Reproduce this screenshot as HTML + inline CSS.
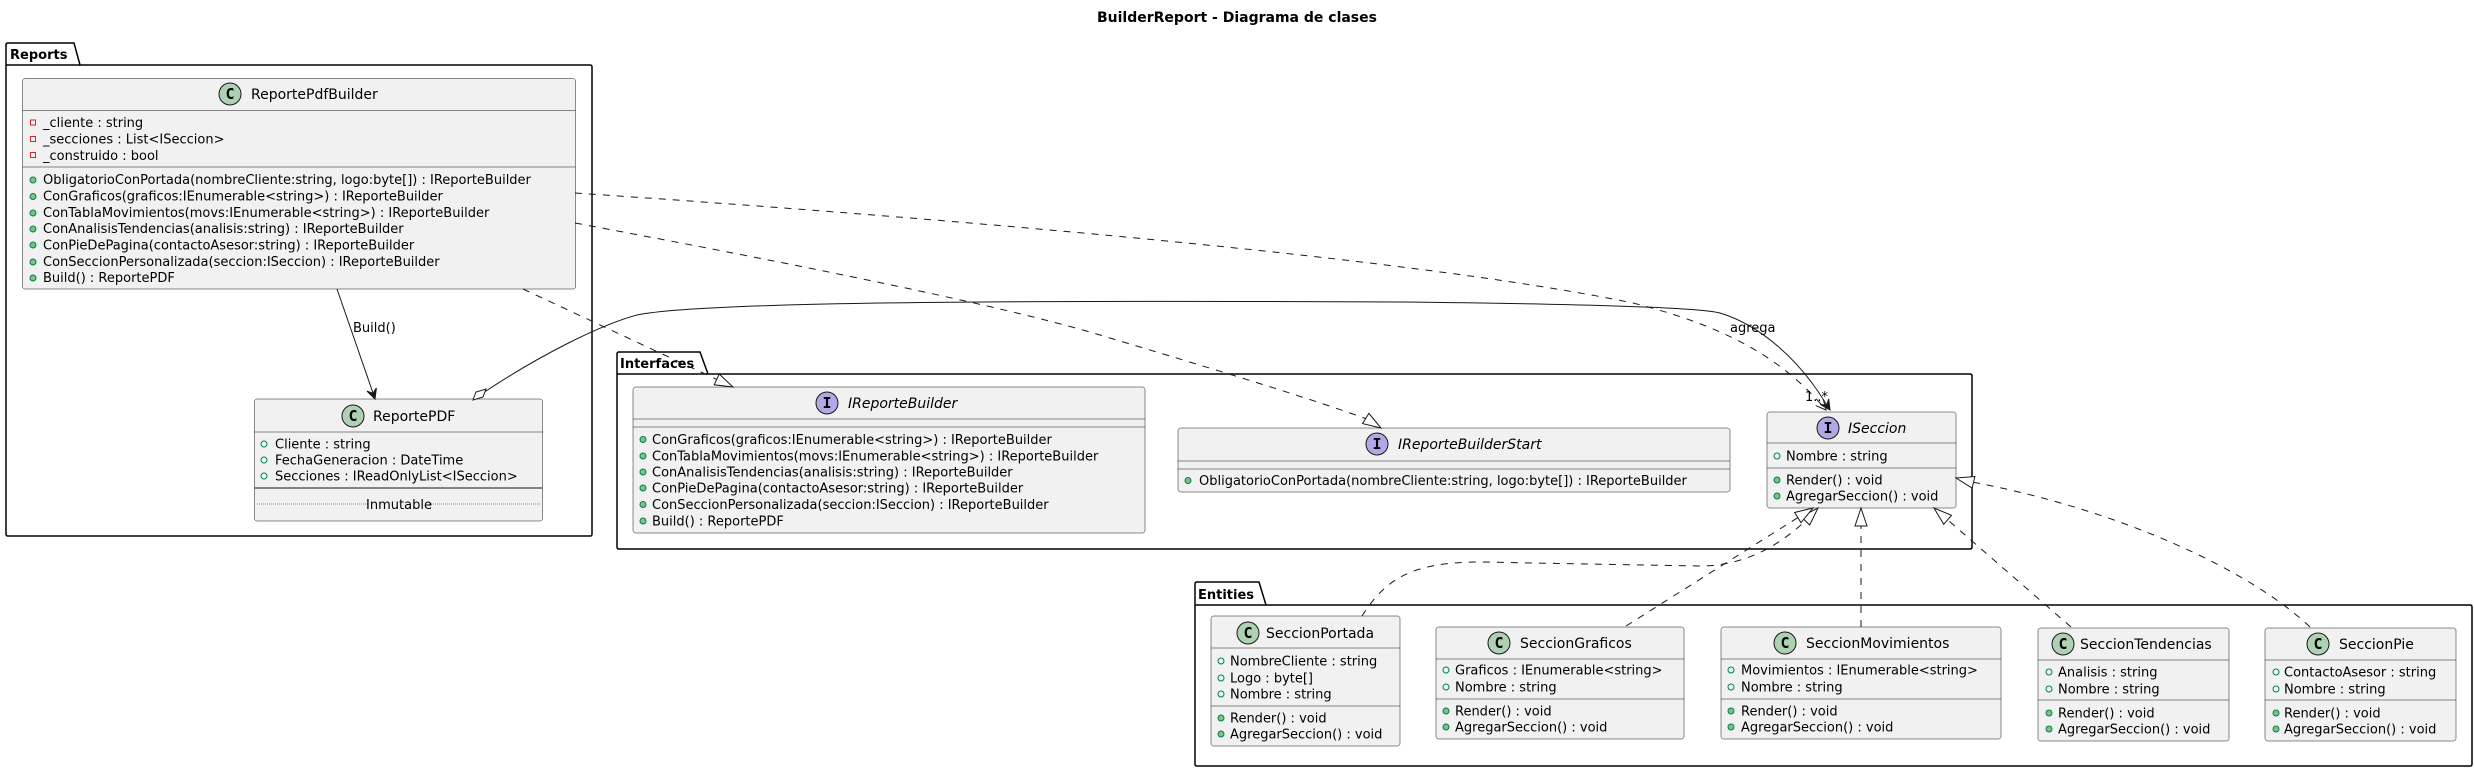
<!DOCTYPE html>
<html><head><meta charset="utf-8"><style>
html,body{margin:0;padding:0;background:#fff;}
svg{display:block;}
text{font-family:"DejaVu Sans","Liberation Sans",sans-serif;fill:#000;}
.m{font-size:13px;}
.n{font-size:14px;}
.i{font-style:italic;}
.b{fill:#F1F1F1;stroke:#181818;stroke-width:0.5;}
.sep{stroke:#181818;stroke-width:0.5;}
.pk{fill:none;stroke:#000;stroke-width:1.5;}
.d{fill:none;stroke:#181818;stroke-width:1;stroke-dasharray:7,7;}
.s{fill:none;stroke:#181818;stroke-width:1;}
.tri{fill:#fff;stroke:#181818;stroke-width:1;}
.pr{fill:none;stroke:#C82930;stroke-width:1;}
.pm{fill:#84BE84;stroke:#038048;stroke-width:1;}
.pf{fill:none;stroke:#038048;stroke-width:1;}
.cc{fill:#ADD1B2;stroke:#181818;stroke-width:1;}
.ci{fill:#B4A7E5;stroke:#181818;stroke-width:1;}
.cl{font-size:15px;font-weight:bold;font-family:"DejaVu Sans Mono","Liberation Mono",monospace;}
.pkt{font-size:13px;font-weight:bold;}
</style></head><body>
<svg width="2474" height="768" viewBox="0 0 2474 768" xmlns="http://www.w3.org/2000/svg">
<text x="1237" y="22" text-anchor="middle" style="font-size:14px;font-weight:bold">BuilderReport - Diagrama de clases</text>

<!-- Packages -->
<path class="pk" d="M6,65 L6,45 Q6,43 8,43 L74,43 L80,65 L590,65 Q592,65 592,67 L592,534 Q592,536 590,536 L8,536 Q6,536 6,534 Z"/>
<line class="pk" x1="6" y1="65" x2="80" y2="65"/>
<text class="pkt" x="10" y="59">Reports</text>

<path class="pk" d="M617,374 L617,354 Q617,352 619,352 L700,352 L708,374 L1970,374 Q1972,374 1972,376 L1972,547 Q1972,549 1970,549 L619,549 Q617,549 617,547 Z"/>
<line class="pk" x1="617" y1="374" x2="708" y2="374"/>
<text class="pkt" x="620" y="368">Interfaces</text>

<path class="pk" d="M1195,605 L1195,584 Q1195,582 1197,582 L1259,582 L1266,605 L2470,605 Q2472,605 2472,607 L2472,764 Q2472,766 2470,766 L1197,766 Q1195,766 1195,764 Z"/>
<line class="pk" x1="1195" y1="605" x2="1266" y2="605"/>
<text class="pkt" x="1198" y="599">Entities</text>

<!-- ReportePdfBuilder -->
<rect class="b" x="22.5" y="78.5" width="553" height="210.5" rx="2.5"/>
<line class="sep" x1="22.5" y1="110.5" x2="575.5" y2="110.5"/>
<line class="sep" x1="22.5" y1="167" x2="575.5" y2="167"/>
<circle class="cc" cx="230" cy="94" r="11"/><text class="cl" x="230" y="99" text-anchor="middle">C</text>
<text class="n" x="251" y="99">ReportePdfBuilder</text>
<rect class="pr" x="30.5" y="120" width="5" height="5"/><text class="m" x="43" y="127">_cliente : string</text>
<rect class="pr" x="30.5" y="136.5" width="5" height="5"/><text class="m" x="43" y="143.5">_secciones : List&lt;ISeccion&gt;</text>
<rect class="pr" x="30.5" y="152.5" width="5" height="5"/><text class="m" x="43" y="160">_construido : bool</text>
<circle class="pm" cx="33" cy="180" r="3"/><text class="m" x="43" y="184">ObligatorioConPortada(nombreCliente:string, logo:byte[]) : IReporteBuilder</text>
<circle class="pm" cx="33" cy="196.5" r="3"/><text class="m" x="43" y="200.5">ConGraficos(graficos:IEnumerable&lt;string&gt;) : IReporteBuilder</text>
<circle class="pm" cx="33" cy="213" r="3"/><text class="m" x="43" y="217">ConTablaMovimientos(movs:IEnumerable&lt;string&gt;) : IReporteBuilder</text>
<circle class="pm" cx="33" cy="229" r="3"/><text class="m" x="43" y="233">ConAnalisisTendencias(analisis:string) : IReporteBuilder</text>
<circle class="pm" cx="33" cy="245" r="3"/><text class="m" x="43" y="249.5">ConPieDePagina(contactoAsesor:string) : IReporteBuilder</text>
<circle class="pm" cx="33" cy="262" r="3"/><text class="m" x="43" y="266">ConSeccionPersonalizada(seccion:ISeccion) : IReporteBuilder</text>
<circle class="pm" cx="33" cy="278" r="3"/><text class="m" x="43" y="282">Build() : ReportePDF</text>

<!-- ReportePDF -->
<rect class="b" x="254.5" y="399" width="288" height="122" rx="2.5"/>
<line class="sep" x1="254.5" y1="432" x2="542.5" y2="432"/>
<line x1="254.5" y1="488" x2="542.5" y2="488" stroke="#181818" stroke-width="1"/>
<line x1="257" y1="504" x2="540" y2="504" stroke="#181818" stroke-width="0.5" stroke-dasharray="1,1"/>
<rect x="369" y="496" width="60" height="16" fill="#F1F1F1"/>
<text class="m" x="399" y="509" text-anchor="middle">Inmutable</text>
<circle class="cc" cx="353" cy="416" r="11"/><text class="cl" x="353" y="421" text-anchor="middle">C</text>
<text class="n" x="373" y="421">ReportePDF</text>
<circle class="pf" cx="264" cy="444" r="3"/><text class="m" x="275" y="448.5">Cliente : string</text>
<circle class="pf" cx="264" cy="460" r="3"/><text class="m" x="275" y="464.5">FechaGeneracion : DateTime</text>
<circle class="pf" cx="264" cy="476" r="3"/><text class="m" x="275" y="480.5">Secciones : IReadOnlyList&lt;ISeccion&gt;</text>

<!-- IReporteBuilder -->
<rect class="b" x="633" y="387" width="512" height="146" rx="2.5"/>
<line class="sep" x1="633" y1="419" x2="1145" y2="419"/>
<line class="sep" x1="633" y1="427" x2="1145" y2="427"/>
<circle class="ci" cx="827" cy="403" r="11"/><text class="cl" x="827" y="408" text-anchor="middle">I</text>
<text class="n i" x="848" y="408">IReporteBuilder</text>
<circle class="pm" cx="643" cy="439.5" r="3"/><text class="m" x="652" y="444">ConGraficos(graficos:IEnumerable&lt;string&gt;) : IReporteBuilder</text>
<circle class="pm" cx="643" cy="456" r="3"/><text class="m" x="652" y="460.5">ConTablaMovimientos(movs:IEnumerable&lt;string&gt;) : IReporteBuilder</text>
<circle class="pm" cx="643" cy="472" r="3"/><text class="m" x="652" y="476.5">ConAnalisisTendencias(analisis:string) : IReporteBuilder</text>
<circle class="pm" cx="643" cy="488" r="3"/><text class="m" x="652" y="492.5">ConPieDePagina(contactoAsesor:string) : IReporteBuilder</text>
<circle class="pm" cx="643" cy="504.5" r="3"/><text class="m" x="652" y="509">ConSeccionPersonalizada(seccion:ISeccion) : IReporteBuilder</text>
<circle class="pm" cx="643" cy="521" r="3"/><text class="m" x="652" y="525.5">Build() : ReportePDF</text>

<!-- IReporteBuilderStart -->
<rect class="b" x="1178" y="428" width="552" height="64" rx="2.5"/>
<line class="sep" x1="1178" y1="461" x2="1730" y2="461"/>
<line class="sep" x1="1178" y1="469" x2="1730" y2="469"/>
<circle class="ci" cx="1377" cy="444" r="11"/><text class="cl" x="1377" y="449" text-anchor="middle">I</text>
<text class="n i" x="1398" y="449">IReporteBuilderStart</text>
<circle class="pm" cx="1188" cy="480.5" r="3"/><text class="m" x="1199" y="485">ObligatorioConPortada(nombreCliente:string, logo:byte[]) : IReporteBuilder</text>

<!-- ISeccion -->
<rect class="b" x="1767" y="412" width="189" height="96" rx="2.5"/>
<line class="sep" x1="1767" y1="443" x2="1956" y2="443"/>
<line class="sep" x1="1767" y1="468" x2="1956" y2="468"/>
<circle class="ci" cx="1828" cy="428" r="11"/><text class="cl" x="1828" y="433" text-anchor="middle">I</text>
<text class="n i" x="1848" y="433">ISeccion</text>
<circle class="pf" cx="1777" cy="456" r="3"/><text class="m" x="1786" y="460.5">Nombre : string</text>
<circle class="pm" cx="1777" cy="480" r="3"/><text class="m" x="1786" y="484.5">Render() : void</text>
<circle class="pm" cx="1777" cy="496" r="3"/><text class="m" x="1786" y="500.5">AgregarSeccion() : void</text>

<!-- SeccionPortada -->
<rect class="b" x="1211" y="616" width="189" height="130" rx="2.5"/>
<line class="sep" x1="1211" y1="648" x2="1400" y2="648"/>
<line class="sep" x1="1211" y1="706" x2="1400" y2="706"/>
<circle class="cc" cx="1248" cy="633" r="11"/><text class="cl" x="1248" y="638" text-anchor="middle">C</text>
<text class="n" x="1266" y="638">SeccionPortada</text>
<circle class="pf" cx="1221" cy="661" r="3"/><text class="m" x="1230" y="665.5">NombreCliente : string</text>
<circle class="pf" cx="1221" cy="678" r="3"/><text class="m" x="1230" y="682.5">Logo : byte[]</text>
<circle class="pf" cx="1221" cy="694" r="3"/><text class="m" x="1230" y="698.5">Nombre : string</text>
<circle class="pm" cx="1221" cy="718" r="3"/><text class="m" x="1230" y="722.5">Render() : void</text>
<circle class="pm" cx="1221" cy="734" r="3"/><text class="m" x="1230" y="738.5">AgregarSeccion() : void</text>

<!-- SeccionGraficos -->
<rect class="b" x="1436" y="627" width="248" height="112" rx="2.5"/>
<line class="sep" x1="1436" y1="659" x2="1684" y2="659"/>
<line class="sep" x1="1436" y1="699" x2="1684" y2="699"/>
<circle class="cc" cx="1499" cy="643" r="11"/><text class="cl" x="1499" y="648" text-anchor="middle">C</text>
<text class="n" x="1520" y="648">SeccionGraficos</text>
<circle class="pf" cx="1446" cy="670" r="3"/><text class="m" x="1455" y="674.5">Graficos : IEnumerable&lt;string&gt;</text>
<circle class="pf" cx="1446" cy="687" r="3"/><text class="m" x="1455" y="691.5">Nombre : string</text>
<circle class="pm" cx="1446" cy="711" r="3"/><text class="m" x="1455" y="715.5">Render() : void</text>
<circle class="pm" cx="1446" cy="727" r="3"/><text class="m" x="1455" y="731.5">AgregarSeccion() : void</text>

<!-- SeccionMovimientos -->
<rect class="b" x="1721" y="627" width="280" height="112" rx="2.5"/>
<line class="sep" x1="1721" y1="659" x2="2001" y2="659"/>
<line class="sep" x1="1721" y1="699" x2="2001" y2="699"/>
<circle class="cc" cx="1785" cy="643" r="11"/><text class="cl" x="1785" y="648" text-anchor="middle">C</text>
<text class="n" x="1806" y="648">SeccionMovimientos</text>
<circle class="pf" cx="1731" cy="670" r="3"/><text class="m" x="1741" y="674.5">Movimientos : IEnumerable&lt;string&gt;</text>
<circle class="pf" cx="1731" cy="687" r="3"/><text class="m" x="1741" y="691.5">Nombre : string</text>
<circle class="pm" cx="1731" cy="711" r="3"/><text class="m" x="1741" y="715.5">Render() : void</text>
<circle class="pm" cx="1731" cy="727" r="3"/><text class="m" x="1741" y="731.5">AgregarSeccion() : void</text>

<!-- SeccionTendencias -->
<rect class="b" x="2038" y="628" width="191" height="113" rx="2.5"/>
<line class="sep" x1="2038" y1="660" x2="2229" y2="660"/>
<line class="sep" x1="2038" y1="700" x2="2229" y2="700"/>
<circle class="cc" cx="2063" cy="644" r="11"/><text class="cl" x="2063" y="649" text-anchor="middle">C</text>
<text class="n" x="2080" y="649">SeccionTendencias</text>
<circle class="pf" cx="2049" cy="672" r="3"/><text class="m" x="2058" y="676.5">Analisis : string</text>
<circle class="pf" cx="2049" cy="689" r="3"/><text class="m" x="2058" y="693.5">Nombre : string</text>
<circle class="pm" cx="2049" cy="713" r="3"/><text class="m" x="2058" y="717.5">Render() : void</text>
<circle class="pm" cx="2049" cy="729" r="3"/><text class="m" x="2058" y="733.5">AgregarSeccion() : void</text>

<!-- SeccionPie -->
<rect class="b" x="2265" y="628" width="191" height="113" rx="2.5"/>
<line class="sep" x1="2265" y1="660" x2="2456" y2="660"/>
<line class="sep" x1="2265" y1="700" x2="2456" y2="700"/>
<circle class="cc" cx="2318" cy="644" r="11"/><text class="cl" x="2318" y="649" text-anchor="middle">C</text>
<text class="n" x="2339" y="649">SeccionPie</text>
<circle class="pf" cx="2276" cy="672" r="3"/><text class="m" x="2284" y="676.5">ContactoAsesor : string</text>
<circle class="pf" cx="2276" cy="689" r="3"/><text class="m" x="2284" y="693.5">Nombre : string</text>
<circle class="pm" cx="2276" cy="713" r="3"/><text class="m" x="2284" y="717.5">Render() : void</text>
<circle class="pm" cx="2276" cy="729" r="3"/><text class="m" x="2284" y="733.5">AgregarSeccion() : void</text>

<!-- Edges -->
<!-- Build() -->
<path class="s" d="M337,289 L373,393"/>
<polygon points="375,399 367,391.1 373,393.3 376.4,387.9" fill="#181818" stroke="#181818"/>
<text class="m" x="353" y="332">Build()</text>

<!-- realization ReportePdfBuilder -> IReporteBuilder -->
<path class="d" d="M523,289 L716.7,379.4"/>
<polygon class="tri" points="733,387 714.2,384.8 719.2,374"/>

<!-- realization -> IReporteBuilderStart -->
<path class="d" d="M575,223 C800,265 1000,305 1100,335 C1200,365 1300,395 1365.7,418.5"/>
<polygon class="tri" points="1381,428 1362.5,423.6 1368.9,413.4"/>

<!-- dependency -> ISeccion -->
<path class="d" d="M575,193 C900,215 1400,255 1633,303 C1720,325 1780,355 1826,410"/>
<path class="s" d="M1815.7,405.6 L1826,410 L1823.3,399.2"/>
<text class="m" x="1805" y="401">1..*</text>

<!-- aggregation ReportePDF -> ISeccion -->
<path class="s" d="M483,393 C540,355 600,325 637,315 C700,302 1000,300 1400,302 C1600,304 1700,308 1720,313 C1760,325 1800,360 1826.7,405"/>
<polygon points="1830,410 1820.3,404.5 1826.7,405 1828.7,398.9" fill="#181818" stroke="#181818"/>
<polygon points="473,400 476,392 486,389 483,397" fill="#fff" stroke="#181818"/>
<text class="m" x="1730" y="332">agrega</text>

<!-- entity realizations -->
<path class="d" d="M1362,616 C1385,580 1410,562 1480,562 L1700,566 C1750,566 1785,540 1805.4,520.8"/>
<polygon class="tri" points="1818,508 1809.7,525 1801.1,516.6"/>
<path class="d" d="M1626,626 L1797.8,517.6"/>
<polygon class="tri" points="1813,508 1801,522.7 1794.6,512.5"/>
<path class="d" d="M1861,627 L1861,526"/>
<polygon class="tri" points="1861,508 1855,526 1867,526"/>
<path class="d" d="M2071,627 L1947.6,519.8"/>
<polygon class="tri" points="1934,508 1951.5,515.3 1943.7,524.3"/>
<path class="d" d="M2310,627 C2250,570 2120,510 1973.5,482.3"/>
<polygon class="tri" points="1956,478 1974.9,476.5 1972.1,488.1"/>
</svg>
</body></html>
